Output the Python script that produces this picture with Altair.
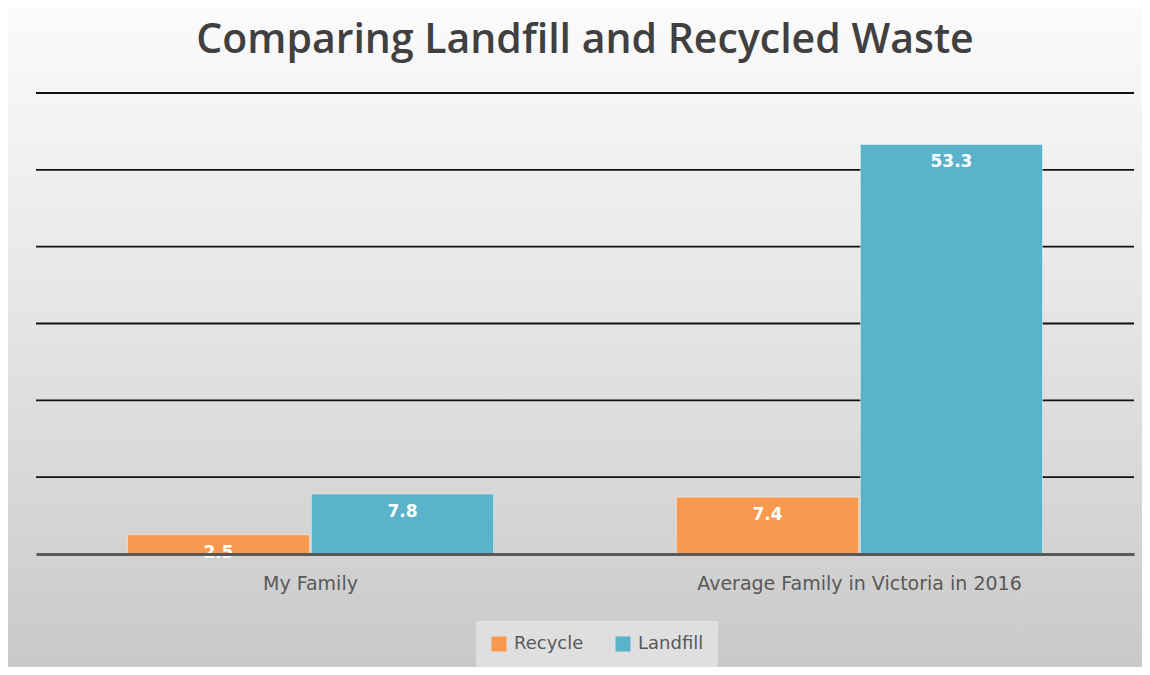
import altair as alt
import pandas as pd

title_text = "Comparing Landfill and Recycled Waste"
categories = ["My Family", "Average Family in Victoria in 2016"]
series = ["Recycle", "Landfill"]
recycle = [2.5, 7.4]
landfill = [7.8, 53.3]
colors = ["#F79A4F", "#5AB3CB"]
grid_values = [10, 20, 30, 40, 50, 60]

rows = []
for i, c in enumerate(categories):
    rows.append({"category": c, "series": "Recycle", "value": recycle[i]})
    rows.append({"category": c, "series": "Landfill", "value": landfill[i]})
df = pd.DataFrame(rows)

W, H = 1098, 461
PL, PT, PR, PB = 28, 85, 8, 113

grad = alt.LinearGradient(
    gradient="linear",
    stops=[
        alt.GradientStop(color="#fbfbfb", offset=0),
        alt.GradientStop(color="#e6e6e6", offset=0.45),
        alt.GradientStop(color="#c9c9c9", offset=1),
    ],
    x1=0, x2=0, y1=0, y2=1,
)

yscale = alt.Scale(domain=[0, 60], nice=False)

bg = alt.Chart(pd.DataFrame({"a": [0]})).mark_rect(color=grad).encode(
    x=alt.value(-PL), x2=alt.value(W + PR), y=alt.value(-PT), y2=alt.value(H + PB)
)

title = alt.Chart(pd.DataFrame({"t": [title_text]})).mark_text(
    font="Open Sans", fontSize=41, fontWeight=600, color="#404040",
    align="center", baseline="alphabetic"
).encode(x=alt.value(W / 2), y=alt.value(-40), text="t:N")

grid = alt.Chart(pd.DataFrame({"v": grid_values})).mark_rule(
    color="#111111", strokeWidth=1.8
).encode(y=alt.Y("v:Q", scale=yscale, title=None, axis=None))

base = alt.Chart(df).encode(
    x=alt.X("category:N", sort=categories, title=None,
            scale=alt.Scale(paddingInner=1/3, paddingOuter=1/6),
            axis=alt.Axis(labelAngle=0, labelFontSize=19, labelColor="#595959",
                          labelFont="DejaVu Sans", labelPadding=20, ticks=False,
                          labelLimit=500,
                          domainColor="#595959", domainWidth=3, grid=False, zindex=1)),
    xOffset=alt.XOffset("series:N", sort=series, scale=alt.Scale(paddingInner=0.01)),
    y=alt.Y("value:Q", title=None, scale=yscale, axis=None),
)

bars = base.mark_bar(stroke="#ffffff", strokeOpacity=0.4, strokeWidth=1).encode(
    color=alt.Color("series:N", sort=series,
                    scale=alt.Scale(domain=series, range=colors),
                    legend=alt.Legend(title=None, orient="none", direction="horizontal",
                                      legendX=440, legendY=528, padding=14,
                                      fillColor="#dfdfdf", symbolType="square",
                                      symbolSize=225, symbolStrokeWidth=0,
                                      labelFontSize=18, labelColor="#595959",
                                      labelFont="DejaVu Sans", labelOffset=6,
                                      columnPadding=30, zindex=1))
)

labels = base.mark_text(baseline="top", dy=10, color="white", fontSize=17,
                        fontWeight="bold", font="DejaVu Sans").encode(
    text=alt.Text("value:Q", format=".1f")
)

chart = alt.layer(bg, title, grid, bars, labels).properties(
    width=W, height=H,
    autosize=alt.AutoSizeParams(type="none"),
    padding={"left": PL, "top": PT, "right": PR, "bottom": PB},
).configure_view(stroke=None)

chart.save("out.html", embed_options={"renderer": "svg", "actions": False})
